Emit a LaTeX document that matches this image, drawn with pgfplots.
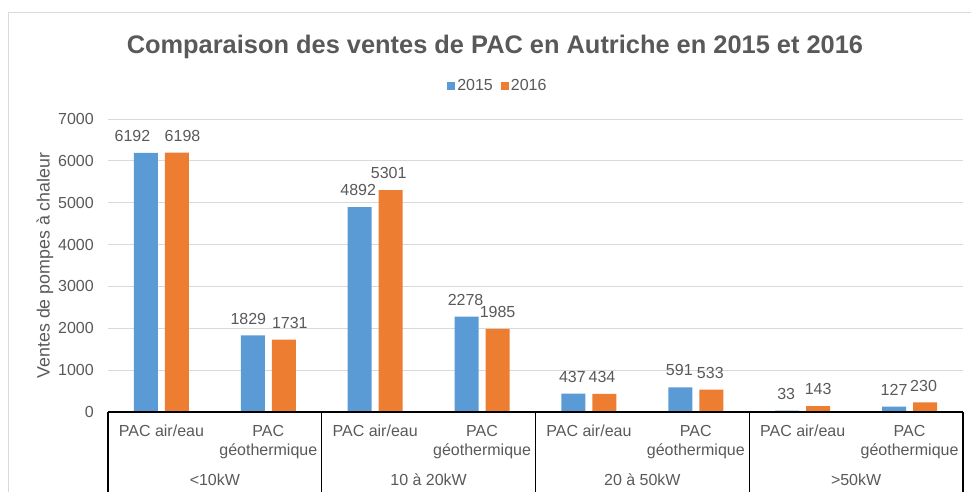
\documentclass[border=0pt]{standalone}
\usepackage{pgfplots}
\pgfplotsset{compat=1.18}
\usepackage{fontspec}
\setmainfont{Liberation Sans}
\definecolor{cblue}{HTML}{5B9BD5}
\definecolor{corange}{HTML}{ED7D31}
\definecolor{txt}{HTML}{595959}
\definecolor{gridc}{HTML}{D9D9D9}
\begin{document}
\begin{tikzpicture}[x=1pt,y=1pt]
\useasboundingbox (0,0) rectangle (971,491);
\draw[gridc, line width=1pt] (8,-20) rectangle (1000,478);
\begin{axis}[
  at={(108pt,79pt)}, anchor=south west,
  scale only axis, width=855pt, height=293pt,
  xmin=-0.5, xmax=7.5, ymin=0, ymax=7000,
  ybar=7pt, bar width=24pt,
  xtick={0,...,7},
  xticklabels={PAC air/eau, PAC\\géothermique, PAC air/eau, PAC\\géothermique, PAC air/eau, PAC\\géothermique, PAC air/eau, PAC\\géothermique},
  xticklabel style={align=center, anchor=north, inner sep=0pt, yshift=-13pt, font=\fontsize{16}{19}\selectfont, text=txt},
  ytick={0,1000,...,7000},
  yticklabel style={anchor=east, inner sep=0pt, xshift=-14pt, font=\fontsize{16}{19}\selectfont, text=txt},
  /pgf/number format/assume math mode=true,
  /pgf/number format/1000 sep={},
  major tick length=0pt,
  ymajorgrids, grid style={gridc, line width=1pt},
  axis line style={draw=none},
  clip=false,
  ylabel={Ventes de pompes à chaleur},
  every axis y label/.style={at={(axis description cs:-0.0737,0.5)}, rotate=90, anchor=center, font=\fontsize{17.8}{20}\selectfont, text=txt},
  title={Comparaison des ventes de PAC en Autriche en 2015 et 2016},
  every axis title/.style={at={(axis description cs:0.4526,1.2475)}, anchor=center, font=\bfseries\fontsize{25.4}{30}\selectfont, text=txt},
  legend columns=2,
  legend style={at={(axis description cs:0.456,1.113)}, anchor=center, draw=none, fill=none, font=\fontsize{16}{19}\selectfont, text=txt, inner sep=0pt,
    /tikz/every even column/.append style={column sep=6pt}},
  legend image code/.code={\fill[#1] (0pt,-4pt) rectangle (8pt,4pt);},
  nodes near coords,
  every node near coord/.append style={anchor=south, inner sep=0pt, yshift=11pt, font=\fontsize{16}{19}\selectfont, text=txt},
]
\addplot[fill=cblue, draw=none, visualization depends on={\thisrow{dx}\as\dx},
  every node near coord/.append style={xshift=\dx pt}] table[x=x, y=y] {
x y dx
0 6192 -13.5
1 1829 -4.5
2 4892 -1.5
3 2278 -1
4 437 -1
5 591 -1
6 33 -1
7 127 0
};
\addplot[fill=corange, draw=none, visualization depends on={\thisrow{dx}\as\dx},
  every node near coord/.append style={xshift=\dx pt}] table[x=x, y=y] {
x y dx
0 6198 5.6
1 1731 6
2 5301 -2
3 1985 0
4 434 -2.4
5 533 -1
6 143 0
7 230 -1.5
};
\legend{2015,2016}
\draw[black, line width=1.2pt] (axis cs:-0.5,0) -- (axis cs:7.5,0);
\pgfplotsinvokeforeach{-0.5,1.5,3.5,5.5,7.5}{
  \draw[black, line width=1.2pt] (axis cs:#1,0) -- ++(0pt,-100pt);
}
\node[anchor=base, text=txt, font=\fontsize{16}{19}\selectfont] at ([yshift=-73pt]axis cs:0.5,0) {<10kW};
\node[anchor=base, text=txt, font=\fontsize{16}{19}\selectfont] at ([yshift=-73pt]axis cs:2.5,0) {10 à 20kW};
\node[anchor=base, text=txt, font=\fontsize{16}{19}\selectfont] at ([yshift=-73pt]axis cs:4.5,0) {20 à 50kW};
\node[anchor=base, text=txt, font=\fontsize{16}{19}\selectfont] at ([yshift=-73pt]axis cs:6.5,0) {>50kW};
\end{axis}
\end{tikzpicture}
\end{document}
